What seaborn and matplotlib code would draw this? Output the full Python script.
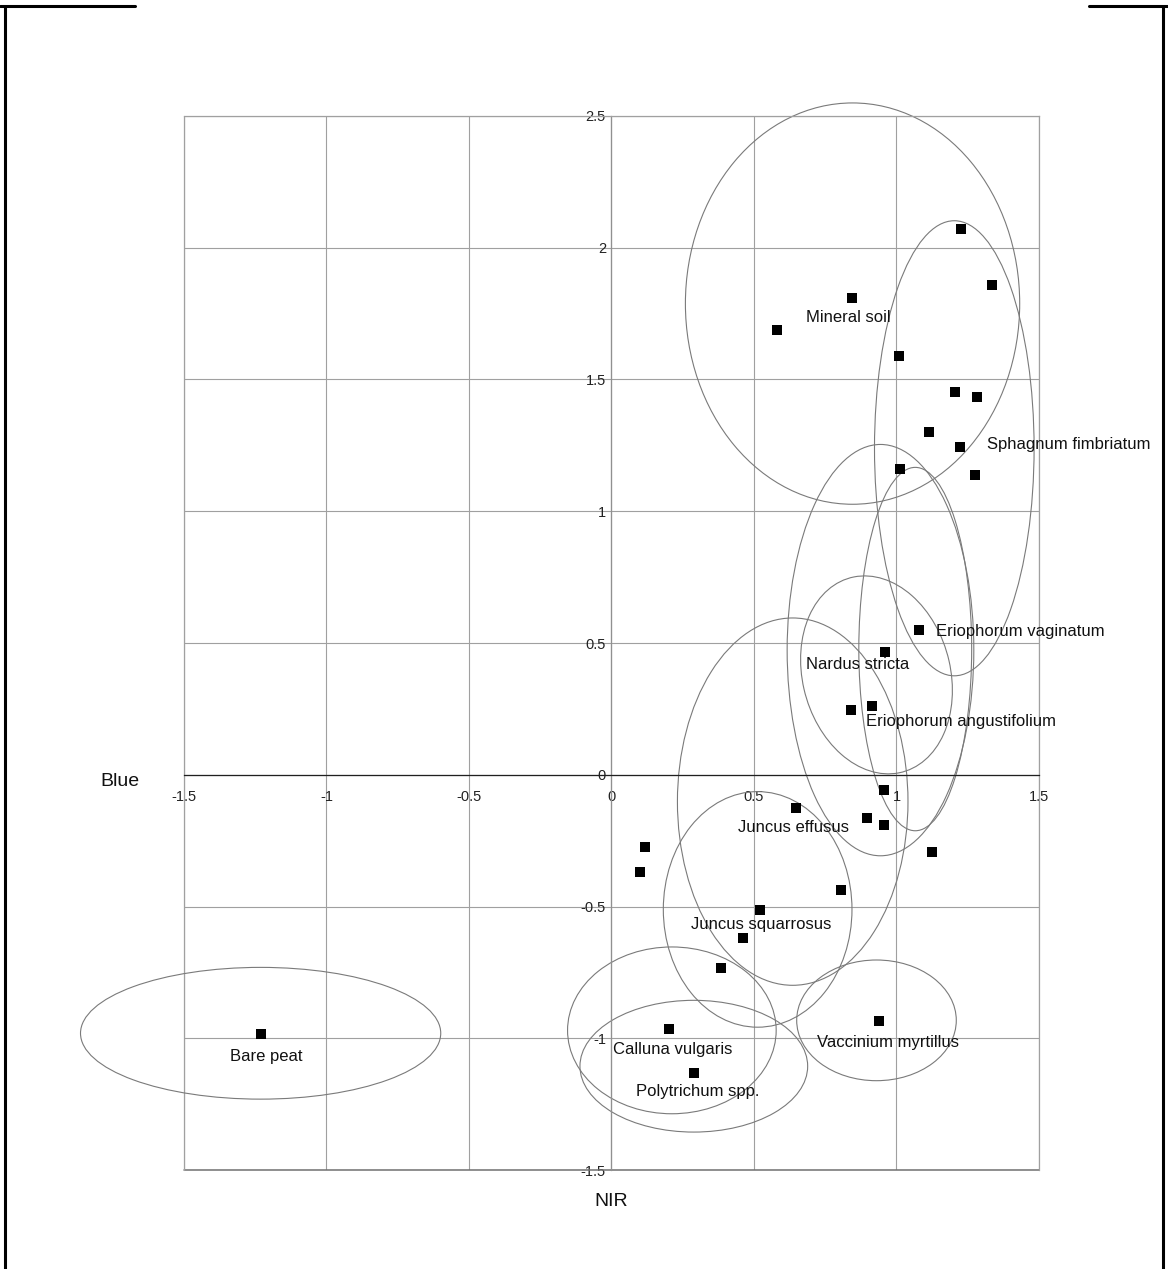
import matplotlib
matplotlib.use("Agg")
import matplotlib.pyplot as plt
from matplotlib.patches import Ellipse
from matplotlib.lines import Line2D
from matplotlib.ticker import MultipleLocator, FuncFormatter
import seaborn as sns

# sample scores (NIR vs Blue)
nir = [1.225, 1.337, 0.843, 0.580, 1.008, 1.204, 1.284, 1.115, 1.222, 1.012,
       1.276, 1.080, 0.961, 0.841, 0.915, 0.956, 0.649, 0.898, 0.958, 1.125,
       0.117, 0.100, 0.807, 0.520, 0.462, 0.384, 0.938, 0.202, 0.290, -1.231]
blue = [2.073, 1.859, 1.811, 1.688, 1.588, 1.452, 1.434, 1.299, 1.242, 1.159,
        1.136, 0.549, 0.465, 0.244, 0.260, -0.057, -0.126, -0.164, -0.191, -0.292,
        -0.273, -0.369, -0.436, -0.514, -0.621, -0.734, -0.933, -0.965, -1.133, -0.982]

# group ellipses: centre, width, height, angle
ell_x = [0.846, 1.203, 0.944, 1.066, 0.930, 0.636, 0.513, 0.212, 0.289, 0.930, -1.231]
ell_y = [1.788, 1.239, 0.473, 0.477, 0.379, -0.102, -0.511, -0.970, -1.106, -0.932, -0.981]
ell_w = [1.173, 0.560, 0.655, 0.396, 0.520, 0.809, 0.662, 0.732, 0.799, 0.560, 1.264]
ell_h = [1.523, 1.727, 1.561, 1.379, 0.760, 1.394, 0.894, 0.633, 0.500, 0.458, 0.500]
ell_a = [0, 0, 0, 0, 12, 0, 0, 0, 0, 0, 0]

# group labels (left edge, middle)
lab_text = ["Mineral soil", "Sphagnum fimbriatum", "Eriophorum vaginatum",
            "Nardus stricta", "Eriophorum angustifolium", "Juncus effusus",
            "Juncus squarrosus", "Calluna vulgaris", "Polytrichum spp.",
            "Vaccinium myrtillus", "Bare peat"]
lab_x = [0.684, 1.319, 1.140, 0.684, 0.894, 0.443, 0.278, 0.005, 0.086, 0.722, -1.340]
lab_y = [1.735, 1.254, 0.545, 0.417, 0.201, -0.201, -0.568, -1.042, -1.201, -1.015, -1.068]

sns.set_theme(style="white")
plt.rcParams["font.family"] = ["Liberation Sans", "DejaVu Sans"]
plt.rcParams["axes.unicode_minus"] = False

fig = plt.figure(figsize=(11.68, 12.69), dpi=100)
ax = fig.add_axes([0.1575, 0.078, 0.732, 0.8306])

ax.set_xlim(-1.5, 1.5)
ax.set_ylim(-1.5, 2.5)
ax.xaxis.set_major_locator(MultipleLocator(0.5))
ax.yaxis.set_major_locator(MultipleLocator(0.5))
fmt = FuncFormatter(lambda v, p: "%g" % v)
ax.xaxis.set_major_formatter(fmt)
ax.yaxis.set_major_formatter(fmt)
ax.grid(True, color="#a0a0a0", linewidth=0.8)
ax.set_axisbelow(True)

ax.spines["left"].set_position("zero")
ax.spines["bottom"].set_position("zero")
ax.spines["left"].set_color("#909090")
ax.spines["bottom"].set_color("#202020")
ax.spines["top"].set_color("#a0a0a0")
ax.spines["right"].set_color("#a0a0a0")
for s in ax.spines.values():
    s.set_linewidth(0.9)
# outer box at the lower/left limits
ax.axhline(-1.5, color="#707070", linewidth=1.1, clip_on=False, zorder=1)
ax.axvline(-1.5, color="#a0a0a0", linewidth=0.9, clip_on=False, zorder=1)

ax.tick_params(axis="x", length=0, pad=11, labelsize=10.5, colors="#222222")
ax.tick_params(axis="y", length=0, pad=4, labelsize=10.5, colors="#222222")

for i in range(len(ell_x)):
    ax.add_patch(Ellipse((ell_x[i], ell_y[i]), ell_w[i], ell_h[i], angle=ell_a[i],
                         fill=False, edgecolor="#7a7a7a", linewidth=0.8,
                         clip_on=False, zorder=2))

sns.scatterplot(x=nir, y=blue, marker="s", color="black", edgecolor="black",
                s=55, linewidth=0, ax=ax, zorder=3, legend=False)

for t, x, y in zip(lab_text, lab_x, lab_y):
    ax.text(x, y, t, fontsize=12, color="#111111", ha="left", va="center", zorder=4)

ax.set_xlabel("NIR", fontsize=14, color="#111111")
ax.set_ylabel("Blue", fontsize=14, color="#111111", rotation=0, ha="center", va="center")
ax.xaxis.set_label_coords(0.5, -0.022)
ax.yaxis.set_label_coords(-0.075, 0.369)

# page frame
frame = dict(color="black", linewidth=2.2, transform=fig.transFigure)
fig.add_artist(Line2D([0.004, 0.004], [0.0, 0.995], **frame))
fig.add_artist(Line2D([0.996, 0.996], [0.0, 0.995], **frame))
fig.add_artist(Line2D([0.0, 0.116], [0.995, 0.995], **frame))
fig.add_artist(Line2D([0.932, 1.0], [0.995, 0.995], **frame))

fig.savefig("out.png", dpi=100, facecolor="white")
